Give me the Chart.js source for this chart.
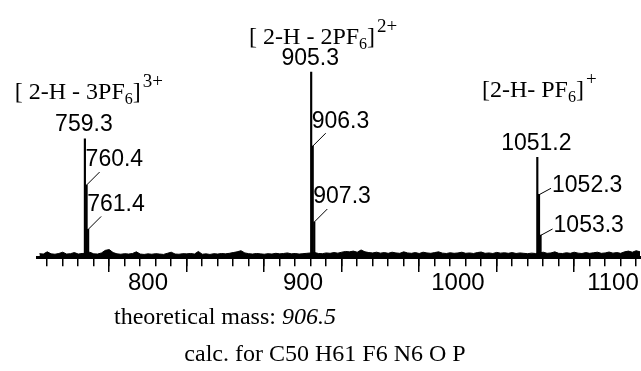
<!DOCTYPE html>
<html>
<head>
<meta charset="utf-8">
<script src="https://cdn.jsdelivr.net/npm/chart.js@4"></script>
<style>
  body { margin: 0; background: #fff; }
  canvas { display: block; }
</style>
</head>
<body>
<canvas id="ms-chart" width="641" height="371"></canvas>
<script>
// 피크 데이터 (m/z, 상대 강도: 905.3 = 100)
const peakMz = [759.3, 760.4, 761.4, 905.3, 906.3, 907.3, 1051.2, 1052.3, 1053.3];
const peakInt = [64, 39, 15, 100, 60, 19, 54, 34, 12];
const peakLabels = ['759.3', '760.4', '761.4', '905.3', '906.3', '907.3', '1051.2', '1052.3', '1053.3'];

// 이온 표기 (대괄호 라벨)
const ionMz = [759.3, 905.3, 1051.2];
const ionText = ['[ 2-H - 3PF', '[ 2-H - 2PF', '[2-H- PF'];
const ionSub = ['6', '6', '6'];
const ionCharge = ['3+', '2+', '+'];

// 바닥 노이즈
const noiseMz = [730, 732.5, 735, 737.5, 740, 742.5, 745, 747.5, 750, 752.5,
  755, 757.5, 760, 762.5, 765, 767.5, 770, 772.5, 775, 777.5,
  780, 782.5, 785, 787.5, 790, 792.5, 795, 797.5, 800, 802.5,
  805, 807.5, 810, 812.5, 815, 817.5, 820, 822.5, 825, 827.5,
  830, 832.5, 835, 837.5, 840, 842.5, 845, 847.5, 850, 852.5,
  855, 857.5, 860, 862.5, 865, 867.5, 870, 872.5, 875, 877.5,
  880, 882.5, 885, 887.5, 890, 892.5, 895, 897.5, 900, 902.5,
  905, 907.5, 910, 912.5, 915, 917.5, 920, 922.5, 925, 927.5,
  930, 932.5, 935, 937.5, 940, 942.5, 945, 947.5, 950, 952.5,
  955, 957.5, 960, 962.5, 965, 967.5, 970, 972.5, 975, 977.5,
  980, 982.5, 985, 987.5, 990, 992.5, 995, 997.5, 1000, 1002.5,
  1005, 1007.5, 1010, 1012.5, 1015, 1017.5, 1020, 1022.5, 1025, 1027.5,
  1030, 1032.5, 1035, 1037.5, 1040, 1042.5, 1045, 1047.5, 1050, 1052.5,
  1055, 1057.5, 1060, 1062.5, 1065, 1067.5, 1070, 1072.5, 1075, 1077.5,
  1080, 1082.5, 1085, 1087.5, 1090, 1092.5, 1095, 1097.5, 1100, 1102.5,
  1105, 1107.5, 1110, 1112.5, 1115, 1117.5];
const noiseInt = [1.9, 1.7, 2.9, 1.8, 1.6, 2.0, 2.7, 1.7, 1.9, 2.5,
  1.7, 2.0, 2.1, 2.7, 1.8, 1.7, 2.3, 3.7, 4.1, 2.5,
  1.8, 1.6, 1.9, 1.7, 2.0, 2.9, 1.7, 1.5, 1.8, 1.6,
  1.9, 1.7, 1.5, 2.1, 2.7, 1.7, 1.6, 1.9, 1.8, 2.0,
  1.7, 3.1, 1.6, 1.8, 1.5, 1.9, 1.7, 2.0, 1.8, 2.1,
  2.5, 2.9, 3.5, 2.3, 1.9, 1.7, 2.0, 1.8, 1.6, 1.9,
  1.7, 2.1, 1.8, 2.0, 2.3, 1.8, 2.0, 1.7, 1.9, 2.1,
  2.3, 2.5, 2.0, 1.9, 2.3, 2.1, 2.5, 2.2, 2.7, 3.1,
  2.9, 3.3, 2.7, 3.9, 2.9, 2.5, 2.3, 2.7, 2.2, 2.5,
  2.1, 2.7, 2.3, 2.1, 2.9, 2.3, 2.1, 2.5, 2.0, 2.7,
  2.3, 2.1, 2.5, 2.9, 2.2, 2.0, 2.4, 2.1, 2.3, 2.7,
  2.1, 2.3, 2.0, 2.5, 2.8, 2.1, 2.3, 2.0, 2.6, 2.2,
  2.4, 2.1, 2.5, 2.0, 2.3, 2.1, 1.9, 2.2, 2.0, 2.3,
  2.7, 2.1, 2.3, 2.9, 2.1, 2.0, 2.4, 2.1, 2.7, 2.2,
  2.0, 2.5, 2.1, 2.4, 2.7, 2.1, 2.3, 2.8, 2.2, 2.5,
  2.1, 2.9, 3.3, 2.7, 3.5, 2.9];

// 축 라벨과 하단 문구
const xTickLabels = ['800', '900', '1000', '1100'];
const massText = 'theoretical mass: ';
const massValue = '906.5';
const calcText = 'calc. for C50 H61 F6 N6 O P';

// 라벨 배치 방식 (top: 피크 위, lead: 사선 지시선, side: 옆 지시선)
const labelPlace = ['top', 'lead', 'lead', 'top', 'lead', 'lead', 'top', 'side', 'side'];
const ionOffset = [[4, -40], [12, -28], [2, -60]];

const SANS = '"Liberation Sans", Arial, sans-serif';
const SERIF = '"Liberation Serif", "Times New Roman", serif';

// 피크 라벨, 이온 표기, 하단 문구 그리기
const labelPlugin = {
  id: 'msLabels',
  afterDatasetsDraw(chart) {
    const ctx = chart.ctx;
    const xs = chart.scales.x;
    const ys = chart.scales.y;
    ctx.save();
    ctx.fillStyle = '#000';
    ctx.strokeStyle = '#000';
    ctx.lineWidth = 1;

    ctx.font = '23px ' + SANS;
    ctx.textBaseline = 'middle';
    peakMz.forEach((mz, i) => {
      const px = xs.getPixelForValue(mz);
      const py = ys.getPixelForValue(peakInt[i]);
      const kind = labelPlace[i];
      if (kind === 'top') {
        ctx.textAlign = 'center';
        ctx.fillText(peakLabels[i], px - 1, py - 14);
      } else if (kind === 'lead') {
        ctx.beginPath();
        ctx.moveTo(px, py);
        ctx.lineTo(px + 13, py - 13);
        ctx.stroke();
        ctx.textAlign = 'left';
        ctx.fillText(peakLabels[i], px - 1, py - 25);
      } else {
        ctx.beginPath();
        ctx.moveTo(px - 1, py + 1);
        ctx.lineTo(px + 12, py - 6);
        ctx.stroke();
        ctx.textAlign = 'left';
        ctx.fillText(peakLabels[i], px + 13, py - 9);
      }
    });

    // 이온 표기
    ctx.textAlign = 'left';
    ctx.textBaseline = 'alphabetic';
    ionMz.forEach((mz, i) => {
      const k = peakMz.indexOf(mz);
      const px = xs.getPixelForValue(mz) + ionOffset[i][0];
      const base = ys.getPixelForValue(peakInt[k]) + ionOffset[i][1];
      const mainFont = '24px ' + SERIF;
      const subFont = '16px ' + SERIF;
      const supFont = '19px ' + SERIF;
      ctx.font = mainFont;
      const w1 = ctx.measureText(ionText[i]).width;
      const w3 = ctx.measureText(']').width;
      ctx.font = subFont;
      const w2 = ctx.measureText(ionSub[i]).width;
      ctx.font = supFont;
      const w4 = ctx.measureText(ionCharge[i]).width;
      let x0 = px - (w1 + w2 + w3 + w4 + 2) / 2;
      ctx.font = mainFont;
      ctx.fillText(ionText[i], x0, base);
      x0 += w1;
      ctx.font = subFont;
      ctx.fillText(ionSub[i], x0, base + 5);
      x0 += w2;
      ctx.font = mainFont;
      ctx.fillText(']', x0, base);
      x0 += w3 + 2;
      ctx.font = supFont;
      ctx.fillText(ionCharge[i], x0, base - 12);
    });

    // 하단 문구
    ctx.font = '24px ' + SERIF;
    const wa = ctx.measureText(massText).width;
    ctx.font = 'italic 24px ' + SERIF;
    const wb = ctx.measureText(massValue).width;
    const mx = 225 - (wa + wb) / 2;
    ctx.font = '24px ' + SERIF;
    ctx.fillText(massText, mx, 324);
    ctx.font = 'italic 24px ' + SERIF;
    ctx.fillText(massValue, mx + wa, 324);

    ctx.font = '24px ' + SERIF;
    ctx.textAlign = 'center';
    ctx.fillText(calcText, 325, 361);
    ctx.restore();
  }
};

const ctx = document.getElementById('ms-chart').getContext('2d');
const chart = new Chart(ctx, {
  type: 'bar',
  data: {
    datasets: [{
      type: 'bar',
      label: 'peaks',
      data: peakMz.map((mz, i) => ({ x: mz, y: peakInt[i] })),
      backgroundColor: '#000',
      barThickness: 1.5,
      grouped: false
    }, {
      type: 'line',
      label: 'noise',
      data: noiseMz.map((mz, i) => ({ x: mz, y: noiseInt[i] })),
      borderColor: '#000',
      backgroundColor: '#000',
      borderWidth: 1,
      fill: 'origin',
      pointRadius: 0,
      tension: 0
    }]
  },
  options: {
    responsive: false,
    animation: false,
    layout: { padding: { left: 37, right: 0, top: 0, bottom: 70 } },
    plugins: {
      legend: { display: false },
      tooltip: { enabled: false }
    },
    scales: {
      x: {
        type: 'linear',
        position: 'bottom',
        min: 728.4,
        max: 1118.1,
        offset: false,
        border: { display: true, color: '#000', width: 3 },
        grid: { drawOnChartArea: false, color: '#000', lineWidth: 1.5, tickLength: 9 },
        ticks: {
          stepSize: 10,
          includeBounds: false,
          autoSkip: false,
          maxRotation: 0,
          padding: 3,
          color: '#000',
          font: { family: SANS, size: 24 },
          callback: (v) => xTickLabels.includes(String(v)) ? String(v) : ''
        }
      },
      x2: {
        type: 'linear',
        axis: 'x',
        position: { y: 0 },
        min: 728.4,
        max: 1118.1,
        offset: false,
        border: { display: false },
        grid: { drawOnChartArea: false, color: '#000', lineWidth: 1.5, tickLength: 15 },
        ticks: { stepSize: 50, includeBounds: false, autoSkip: false, display: false }
      },
      y: {
        display: false,
        min: 0,
        max: 139
      }
    }
  },
  plugins: [labelPlugin]
});
</script>
</body>
</html>
